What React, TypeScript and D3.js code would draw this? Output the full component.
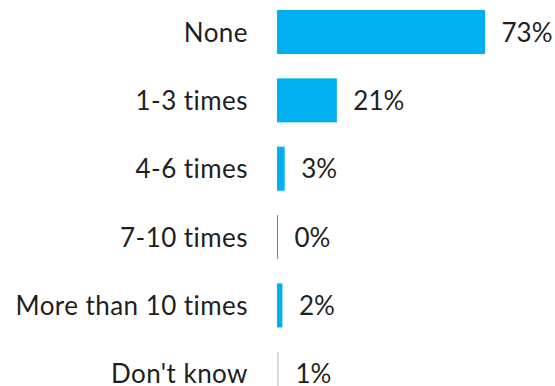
import React from "react";
import * as d3 from "d3";

const categories = ["None", "1-3 times", "4-6 times", "7-10 times", "More than 10 times", "Don't know"];
const values = [73, 21, 2.7, 0.3, 1.9, 0.7];
const barColors = ["#00B0F0", "#00B0F0", "#00B0F0", "#00B0F0", "#00B0F0", "#D9D9D9"];

const W = 555;
const H = 386;

export default function App() {
  const y = d3
    .scaleBand<string>()
    .domain(categories)
    .range([10, 395.8])
    .paddingInner(0.356)
    .paddingOuter(0);
  const x = d3.scaleLinear().domain([0, 73]).range([277, 485]);
  const fmt = d3.format(".0f");
  const fontSize = 26;
  const textColor = "#1f1f1f";

  return (
    <svg
      width={W}
      height={H}
      style={{ position: "absolute", left: 0, top: 0, background: "#fff" }}
      fontFamily="Lato, 'Noto Sans', sans-serif"
      fontSize={fontSize}
    >
      {categories.map((c, i) => {
        const top = y(c)!;
        const bw = y.bandwidth();
        const cy = top + bw / 2;
        const w = Math.max(1, x(values[i]) - x(0));
        return (
          <g key={c}>
            <rect x={x(0)} y={top} width={w} height={bw} fill={barColors[i]} />
            <text
              x={x(0) - 29}
              y={cy + 9.6}
              textAnchor="end"
              fill={textColor}
              letterSpacing={0.45}
            >
              {c}
            </text>
            <text
              x={x(0) + w + 16.5}
              y={cy + 9.6}
              textAnchor="start"
              fill={textColor}
            >
              {fmt(values[i]) + "%"}
            </text>
          </g>
        );
      })}
    </svg>
  );
}
